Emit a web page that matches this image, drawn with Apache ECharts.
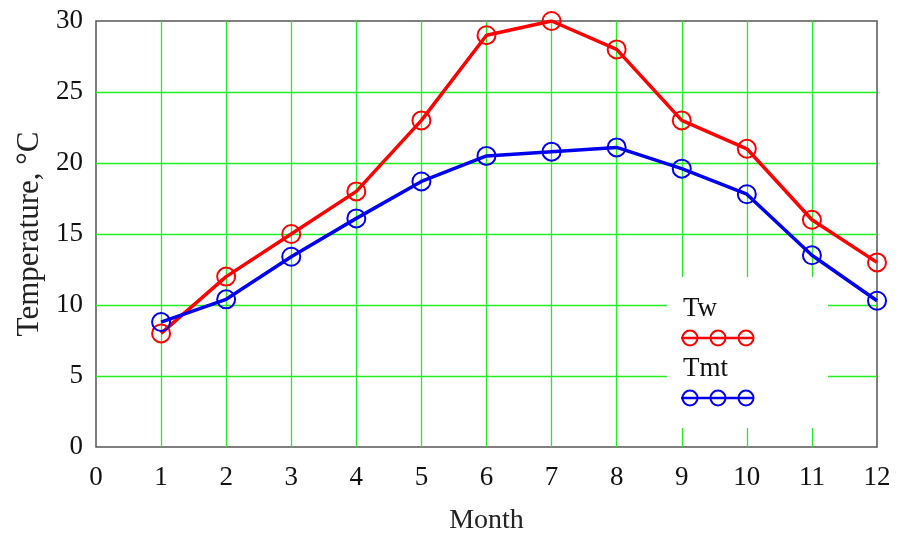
<!DOCTYPE html>
<html>
<head>
<meta charset="utf-8">
<script src="https://cdn.jsdelivr.net/npm/echarts@6/dist/echarts.min.js"></script>
<style>
  html, body { margin: 0; padding: 0; background: #fff; }
  #chart { width: 901px; height: 533px; }
</style>
</head>
<body>
<div id="chart"></div>
<script>
// months and monthly temperatures
var months = [1, 2, 3, 4, 5, 6, 7, 8, 9, 10, 11, 12];
var tw = [8, 12, 15, 18, 23, 29, 30, 28, 23, 21, 16, 13];
var tmt = [8.8, 10.4, 13.4, 16.1, 18.7, 20.5, 20.8, 21.1, 19.6, 17.8, 13.5, 10.3];

var serif = 'Liberation Serif';
var green = '#22ee22';

function pairs (ys) {
  return months.map(function (m, i) { return [m, ys[i]]; });
}

// legend drawn by hand: text above a line with three open circles
function legendSwatch (y, color) {
  var items = [{
    type: 'line',
    shape: { x1: 681, y1: y, x2: 754, y2: y },
    style: { stroke: color, lineWidth: 2.5 },
    z: 101
  }];
  [690, 718, 746].forEach(function (cx) {
    items.push({
      type: 'circle',
      shape: { cx: cx, cy: y, r: 7.5 },
      style: { fill: 'none', stroke: color, lineWidth: 2 },
      z: 101
    });
  });
  return items;
}

var chart = echarts.init(document.getElementById('chart'));
var option = {
  animation: false,
  grid: {
    left: 96, right: 24, top: 21, bottom: 86,
    outerBoundsMode: 'none',
    show: true, borderColor: '#555', borderWidth: 1.5, backgroundColor: 'transparent'
  },
  xAxis: {
    type: 'value', min: 0, max: 12, interval: 1,
    name: 'Month', nameLocation: 'middle', nameGap: 60,
    nameTextStyle: { fontFamily: serif, fontSize: 28, color: '#222' },
    axisLine: { show: false },
    axisTick: { show: false },
    axisLabel: { fontFamily: serif, fontSize: 27, color: '#111', margin: 17 },
    splitLine: { show: true, showMinLine: false, showMaxLine: false, lineStyle: { color: green, width: 1.3 } }
  },
  yAxis: {
    type: 'value', min: 0, max: 30, interval: 5,
    name: 'Temperature, °C', nameLocation: 'middle', nameGap: 50,
    nameTextStyle: { fontFamily: serif, fontSize: 31, color: '#222' },
    axisLine: { show: false },
    axisTick: { show: false },
    axisLabel: { fontFamily: serif, fontSize: 27, color: '#111', margin: 13 },
    splitLine: { show: true, showMinLine: false, showMaxLine: false, lineStyle: { color: green, width: 1.3 } }
  },
  series: [
    {
      name: 'Tw', type: 'line', data: pairs(tw),
      symbol: 'circle', symbolSize: 18,
      lineStyle: { color: '#ff0000', width: 3.5 },
      itemStyle: { color: 'rgba(0,0,0,0)', borderColor: '#ff0000', borderWidth: 2 }
    },
    {
      name: 'Tmt', type: 'line', data: pairs(tmt),
      symbol: 'circle', symbolSize: 18,
      lineStyle: { color: '#0000ee', width: 3.5 },
      itemStyle: { color: 'rgba(0,0,0,0)', borderColor: '#0000ee', borderWidth: 2 }
    }
  ],
  graphic: [
    {
      type: 'rect',
      shape: { x: 667, y: 277, width: 161, height: 151 },
      style: { fill: '#fff' },
      z: 100
    },
    {
      type: 'text', x: 683, y: 309, z: 101,
      style: { text: 'Tw', font: '27px "Liberation Serif"', fill: '#111', verticalAlign: 'middle' }
    },
    {
      type: 'text', x: 683, y: 369, z: 101,
      style: { text: 'Tmt', font: '27px "Liberation Serif"', fill: '#111', verticalAlign: 'middle' }
    }
  ].concat(legendSwatch(338, '#ff0000'), legendSwatch(398, '#0000ee'))
};
chart.setOption(option);
</script>
</body>
</html>
